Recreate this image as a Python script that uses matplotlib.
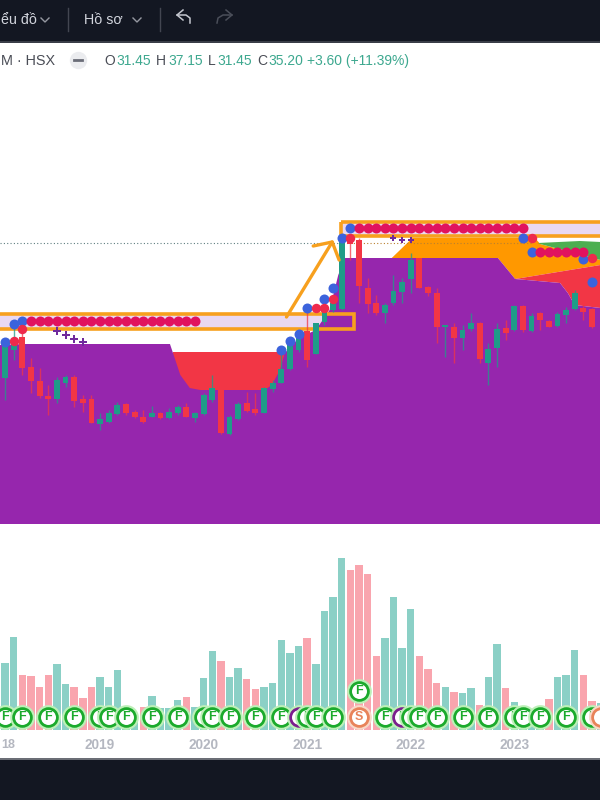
import matplotlib
matplotlib.use("Agg")
import matplotlib.pyplot as plt
from matplotlib.patches import Rectangle

# bar index = months since Jan 2018; vertical levels are chart levels
months = list(range(1, 70))
opens = [378,350,337,367,381,396,399,383,377,399,399,424,422,414,404,412,417,417,413,418,413,407,418,414,400,386,434,419,403,409,413,389,383,369,350,331,354,322,310,309,240,240,288,303,313,303,292,279,258,287,293,327,327,338,329,323,363,348,328,330,306,331,313,321,326,315,309,308,309]
closes = [345,340,368,381,396,399,380,377,401,403,423,419,413,405,413,417,422,413,418,412,407,417,413,395,388,433,417,404,411,413,388,383,369,345,337,360,323,307,303,242,244,286,304,313,305,291,282,260,288,293,327,325,338,330,323,359,349,329,333,306,330,316,320,327,314,310,293,312,327]
highs = [340,323,325,358,368,385,377,375,375,395,395,413,410,402,403,410,410,406,412,408,405,403,412,393,375,380,415,402,392,393,387,380,350,342,330,310,323,300,300,237,238,238,278,295,303,275,278,253,258,286,288,325,323,325,313,322,343,323,320,305,305,313,312,320,312,307,290,290,308]
lows = [400,360,375,393,398,415,403,387,407,412,423,430,423,415,415,418,423,417,419,419,415,417,422,415,402,434,435,420,412,415,413,392,383,370,352,367,354,325,312,310,260,303,313,315,323,305,303,293,288,296,343,357,363,350,331,363,385,367,340,331,332,332,330,327,327,323,310,320,328]

vol_months = list(range(1, 71))
vol_values = [67,93,55,54,43,55,66,46,43,32,43,53,43,60,15,14,23,34,22,22,30,33,23,52,79,69,53,62,51,41,43,47,90,77,84,92,66,119,133,172,160,165,156,74,92,133,82,121,74,61,47,43,38,37,42,25,53,86,42,28,18,15,15,31,53,55,80,55,29,27]
vol_up = [1,1,0,0,0,0,1,1,0,0,0,1,1,1,1,1,0,1,1,1,1,0,1,1,1,0,1,1,0,0,1,1,1,1,1,0,1,1,1,1,0,0,0,0,1,1,1,1,0,0,0,1,0,1,1,0,1,1,0,1,1,1,1,0,1,1,1,0,0,1]

purple_x = [0.4,3.3,20.1,20.45,21.3,22.4,23.6,31.1,31.9,32.85,33.4,35.05,37,38.6,39.6,40.4,45.8,58.1,60.1,65.3,66.2,67,70]
purple_top = [345,344,344,353,375,388,390,390,385,370,353,338,330,310,275,258,258,258,279,283,293,305,308]
red_zone_x = [20.4,33.6]
red_zone_top = [352,352]
orange_x = [45.8,48.2,62.4,63.0,70,70,60.1,58.1]
orange_y = [258,238,238,244,260,265,279,258]
green_x = [62.7,67.6,70,70,63.0]
green_y = [243,241,242,260,244]
red2_x = [60.1,70,70,67,66.2,65.3]
red2_y = [279,265,308,305,293,283]

pink_row1 = list(range(4, 24)); pink_row1_y = 321
pink_row2 = list(range(42, 62)); pink_row2_y = 228
pink_row3 = list(range(63, 69)); pink_row3_y = 252
blue_x = [1,2,3,33,34,35,36,38,39,40,41,61,62,68,69]
blue_y = [342,324,321,350,341,334,308,299,288,238,228,238,252,259,282]
red_x = [2,3,37,38,39,41,62,69]
red_y = [341,329,308,308,299,238,238,258]
plus_x = [7,8,9,10]
plus_y = [331,335,339,342]
small_plus_x = [46,47,48]
small_plus_y = [238,240,240]

f_x = [1,3,6,9,12,13,15,18,21,24,25,27,30,33,35,36,37,39,45,47,48,49,51,54,57,60,61,63,66,69]
f_kind = ["F","F","F","F","F","F","F","F","F","F","F","F","F","F","P","F","F","F","F","P","F","F","F","F","F","F","F","F","F","F"]
year_x = [12,24,36,48,60]
year_labels = ["2019","2020","2021","2022","2023"]

X0, X1 = 0.405, 69.93
TEAL="#1F9C88"; RED="#F23645"; PURPLE="#9626AD"; ORANGE="#F7A01E"
FONT = "Liberation Sans"

fig = plt.figure(figsize=(6,8), dpi=100, facecolor="white")

# volume pane
axv = fig.add_axes([0, 1-730/800, 1, 200/800], zorder=1)
axv.set_xlim(X0, X1); axv.set_ylim(0, 200); axv.axis("off")
axv.bar(vol_months, vol_values, width=0.86,
        color=["#8BD0C6" if u else "#F9A5AE" for u in vol_up])

# main pane
ax = fig.add_axes([0,0,1,1], zorder=2)
ax.set_xlim(X0, X1); ax.set_ylim(800, 0); ax.axis("off"); ax.patch.set_alpha(0)

# zones (fill below the cloud)
ax.add_patch(Rectangle((X0-1, 314), 41.5, 14, fc="#E9D8F1", ec="none", zorder=1))
ax.add_patch(Rectangle((39.9, 222), 40, 14, fc="#E9D8F1", ec="none", zorder=1))
ax.fill_between(red_zone_x, red_zone_top, [400,400], color=RED, lw=0, zorder=2)
ax.fill(orange_x, orange_y, color="#FF9800", lw=0, zorder=2)
ax.fill(green_x, green_y, color="#4CAF50", lw=0, zorder=2.1)
ax.fill(red2_x, red2_y, color=RED, lw=0, zorder=2.1)
ax.fill_between(purple_x, purple_top, 524, color=PURPLE, lw=0, zorder=3)
ax.plot([X0,41], [243,243], color="#5f7f80", lw=0.8, ls=(0,(1,2)), zorder=3.2)
ax.plot([41,62], [243,243], color="#b98030", lw=0.8, ls=(0,(1,2)), zorder=3.2)

# zone borders
for (x0, x1, y0, y1) in [(X0-1, 41.4, 314, 328.5), (39.95, 80, 222, 235.5)]:
    ax.add_patch(Rectangle((x0, y0), x1-x0, y1-y0, fc="none", ec=ORANGE, lw=2.6, zorder=3.4))

# candles
for m,o,c,h,l in zip(months, opens, closes, highs, lows):
    col = TEAL if c < o else RED
    ax.vlines(m, h, l, color=col, lw=1.0, alpha=0.75, zorder=4)
    ax.bar(m, abs(c-o) or 1, bottom=min(o,c), width=0.68, color=col, lw=0, zorder=4.1)

# signal dots
ax.plot(blue_x, blue_y, "o", color="#3C63DC", ms=7.2, mew=0, zorder=5)
ax.plot(red_x, red_y, "o", color="#EE2A4C", ms=6.8, mew=0, zorder=5.1)
for row, level in [(pink_row1, pink_row1_y), (pink_row2, pink_row2_y), (pink_row3, pink_row3_y)]:
    ax.plot(row, [level]*len(row), "o", color="#E1125F", ms=7.2, mew=0, zorder=5.2)
ax.plot(plus_x, plus_y, "P", color="#6F2A9C", ms=6.2, mew=0, zorder=5)
ax.plot(small_plus_x, small_plus_y, "P", color="#6F2A9C", ms=4, mew=0, zorder=5)

# arrow drawing
ax.plot([33.6,38.9], [317,242], color=ORANGE, lw=2.4, zorder=4.5, solid_capstyle="round")
ax.plot([36.7,38.9,39.7], [246,242,260], color=ORANGE, lw=2.4, zorder=4.5, solid_capstyle="round")

# F / S markers on the volume pane
GREEN_B="#1BAA2C"; ORANGE_B="#E8835A"
def badge(axis, x, y, txt, edge, fg, z):
    halo = "#F8D8C8" if edge == ORANGE_B else "#BDF0B8"
    axis.plot(x, y, "o", ms=15, mfc="white", mec=halo, mew=2.8, zorder=z, clip_on=False)
    axis.plot(x, y, "o", ms=12.8, mfc="white", mec=edge, mew=2.0, zorder=z+0.01, clip_on=False)
    if txt:
        axis.text(x, y, txt, color=fg, ha="center", va="center", fontsize=9, family=FONT,
                  fontweight="bold", zorder=z+0.02)

zz = 3
for x, k in zip(f_x, f_kind):
    badge(axv, x, 13, "F", "#7B1E8E" if k == "P" else GREEN_B, GREEN_B, zz)
    zz += 0.1
badge(axv, 42, 39, "F", GREEN_B, GREEN_B, zz+1)
badge(axv, 42, 13, "S", ORANGE_B, ORANGE_B, zz+1)
badge(axv, 70, 13, "", ORANGE_B, ORANGE_B, zz+1)

# year axis
for m, s in zip(year_x, year_labels):
    ax.text(m, 745, s, color="#B4B7C0", ha="center", va="center", fontsize=9.8, family=FONT, fontweight="bold", zorder=6)

# dark chrome
ax.add_patch(Rectangle((X0-1, 0), 80, 41, fc="#131722", ec="none", zorder=7))
ax.add_patch(Rectangle((X0-1, 41), 80, 2, fc="#3a3e48", ec="none", zorder=7))
ax.add_patch(Rectangle((X0-1, 759), 80, 41, fc="#131722", ec="none", zorder=7))
ax.add_patch(Rectangle((X0-1, 758), 80, 1.5, fc="#6b6e76", ec="none", zorder=7))

# interface text placed in the picture's own coordinates
pax = fig.add_axes([0,0,1,1], zorder=3)
pax.set_xlim(0,600); pax.set_ylim(800,0); pax.axis("off"); pax.patch.set_alpha(0)
def t(x, s, c, y=61, fs=10.0):
    pax.text(x, y, s, color=c, ha="left", va="center", fontsize=fs, family=FONT)
pax.text(1, 745, "18", color="#B4B7C0", ha="left", va="center", fontsize=9, family=FONT, fontweight="bold")
t(1, "ểu đồ", "#D1D4DC", y=20, fs=10.3)
t(84, "Hồ sơ", "#D1D4DC", y=20, fs=10.3)
for cx in (45, 137):
    pax.plot([cx-4,cx,cx+4],[18,22,18], color="#9598A1", lw=1)
for vx in (68, 160):
    pax.plot([vx,vx],[8,31], color="#434651", lw=1)
pax.plot([183,177,183], [10,15,20], color="#C4C7CF", lw=1.1)
pax.plot([177,186,190,190], [15,15,18,23], color="#C4C7CF", lw=1.1)
pax.plot([226,232,226], [10,15,20], color="#4A4E59", lw=1.1)
pax.plot([232,223,218,217], [15,15,18,23], color="#4A4E59", lw=1.1)

DARK="#4A4D56"; GRN="#3DA88F"
t(1, "M · HSX", DARK, fs=10.4)
pax.plot(78, 60, "o", ms=12.5, color="#EBECEF", mew=0)
pax.plot([74,82],[60,60], color="#6a6d78", lw=2)
for x,s,c in [(104,"O",DARK),(116,"31.45",GRN),(156,"H",DARK),(168,"37.15",GRN),
              (208,"L",DARK),(217,"31.45",GRN),(257,"C",DARK),(268,"35.20",GRN),
              (307,"+3.60 (+11.39%)",GRN)]:
    t(x,s,c)

fig.savefig("out.png", dpi=100, facecolor="white")
